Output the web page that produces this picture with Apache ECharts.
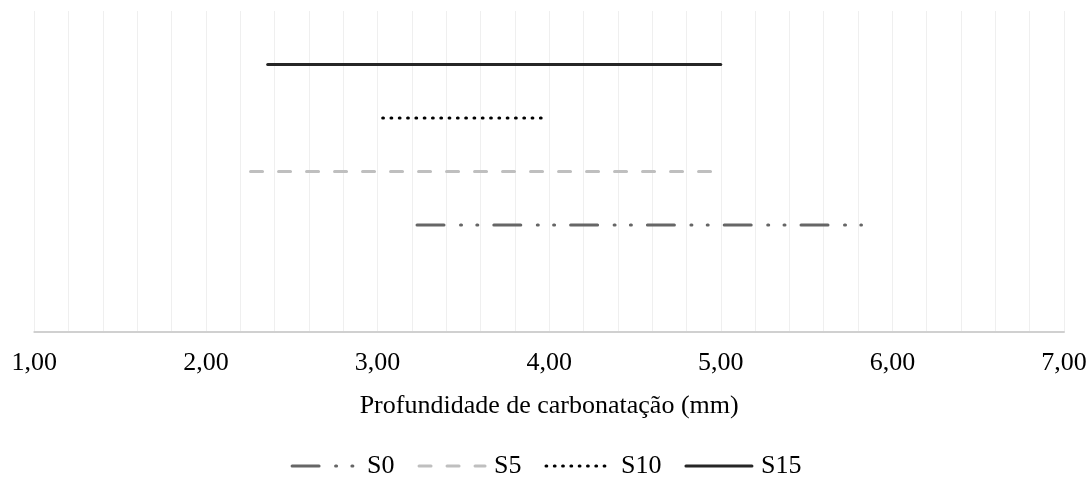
<!DOCTYPE html>
<html>
<head>
<meta charset="utf-8">
<script src="https://cdn.jsdelivr.net/npm/echarts@6/dist/echarts.min.js"></script>
<style>
html,body{margin:0;padding:0;background:#fff;}
#chart{width:1092px;height:486px;}
</style>
</head>
<body>
<div id="chart"></div>
<script>
// Data
const seriesNames = ['S0', 'S5', 'S10', 'S15'];
const xStart = [3.23, 2.26, 3.03, 2.36];
const xEnd = [5.82, 4.95, 3.96, 5.00];
const yLevel = [2, 3, 4, 5];
const xTicks = [1, 2, 3, 4, 5, 6, 7];
const axisTitle = 'Profundidade de carbonatação (mm)';

const styles = [
  { color: '#666666', width: 3, type: [27, 16.5, 1, 15.3, 1, 16] },
  { color: '#bfbfbf', width: 3, type: [12, 16] },
  { color: '#000000', width: 3, type: [0.8, 7.5] },
  { color: '#262626', width: 3, type: 'solid' }
];

const FONT = '"Liberation Serif", "Times New Roman", serif';

const chart = echarts.init(document.getElementById('chart'), null, { renderer: 'canvas' });
chart.setOption({
  animation: false,
  backgroundColor: '#ffffff',
  grid: { left: 34.3, right: 28, top: 11, bottom: 154, containLabel: false },
  xAxis: {
    type: 'value',
    min: xTicks[0],
    max: xTicks[xTicks.length - 1],
    interval: 1,
    name: axisTitle,
    nameLocation: 'middle',
    nameGap: 61,
    nameTextStyle: { fontFamily: FONT, fontSize: 26, color: '#000' },
    axisLine: { show: true, lineStyle: { color: '#d0d0d0', width: 2 } },
    axisTick: { show: false },
    axisLabel: {
      margin: 18,
      fontFamily: FONT, fontSize: 26, color: '#000',
      formatter: v => v.toFixed(2).replace('.', ',')
    },
    splitLine: { show: true, lineStyle: { color: '#efefef', width: 1 } },
    minorTick: { show: false, splitNumber: 5 },
    minorSplitLine: { show: true, lineStyle: { color: '#efefef', width: 1 } }
  },
  yAxis: {
    type: 'value', min: 0, max: 6, show: false,
    splitLine: { show: false }
  },
  legend: {
    bottom: 2,
    left: 'center',
    itemWidth: 66,
    itemHeight: 14,
    itemGap: 23,
    itemStyle: { opacity: 0, borderWidth: 0 },
    lineStyle: { width: 'inherit', type: 'inherit', cap: 'round' },
    textStyle: { fontFamily: FONT, fontSize: 26, color: '#000', padding: [0, 0, 0, 4] },
    data: seriesNames
  },
  series: seriesNames.map((name, i) => ({
    name: name,
    type: 'line',
    symbol: 'none',
    showSymbol: false,
    z: 3,
    lineStyle: { color: styles[i].color, width: styles[i].width, type: styles[i].type, cap: 'round' },
    itemStyle: { color: styles[i].color },
    data: [[xStart[i], yLevel[i]], [xEnd[i], yLevel[i]]]
  }))
});
</script>
</body>
</html>
